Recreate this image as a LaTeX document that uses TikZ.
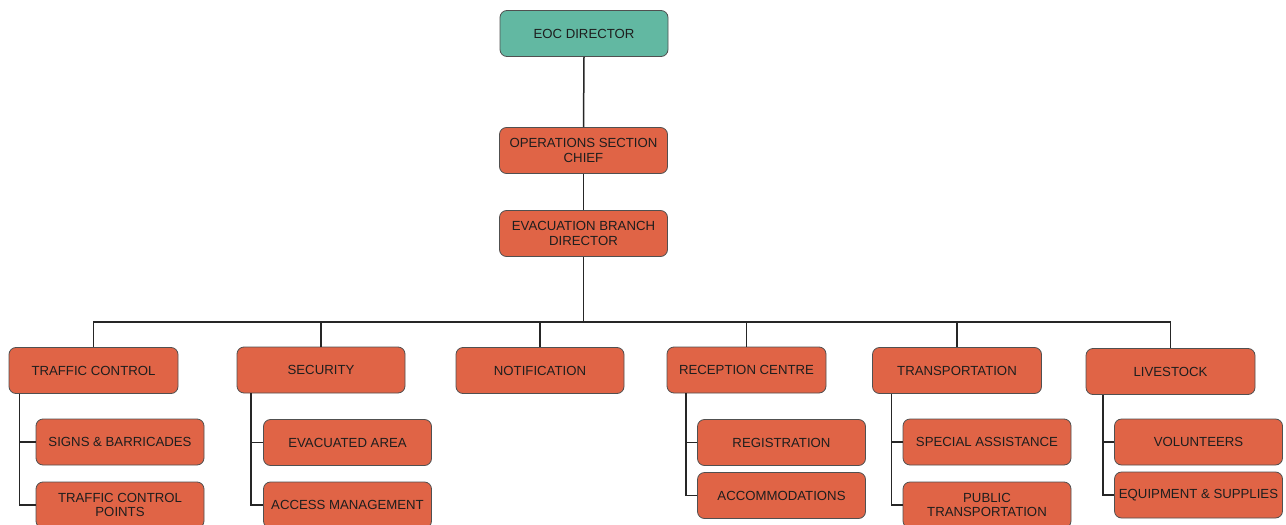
\documentclass[tikz,border=0pt]{standalone}
\usepackage{fontspec}
\setmainfont{Liberation Sans}
\usetikzlibrary{calc}
\definecolor{boxorange}{RGB}{224,100,70}
\definecolor{boxteal}{RGB}{98,184,162}
\definecolor{boxedge}{RGB}{80,80,80}
\definecolor{txt}{RGB}{30,30,30}
\begin{document}
\begin{tikzpicture}[x=1pt,y=-1pt,
  box/.style={draw=boxedge, line width=0.8pt, fill=boxorange, rounded corners=7pt,
    minimum width=168pt, minimum height=46pt, inner sep=1pt, align=center,
    text=txt, font=\fontsize{13.2}{14.5}\selectfont},
  topbox/.style={box, fill=boxteal},
  link/.style={draw=black!85, line width=1.5pt}]
\useasboundingbox (0,0) rectangle (1286,525);
\clip (0,0) rectangle (1286,525);
\fill[white] (0,0) rectangle (1286,525);
% top chain
\node[topbox] (eoc) at (584,33.5) {EOC DIRECTOR};
\node[box] (ops) at (583.5,150.5) {OPERATIONS SECTION\\CHIEF};
\node[box] (evac) at (583.5,233.5) {EVACUATION BRANCH\\DIRECTOR};
% level 2
\node[box, minimum width=169pt] (tc) at (93.5,370.5) {TRAFFIC CONTROL};
\node[box] (sec) at (321,370) {SECURITY};
\node[box] (notif) at (540,370.5) {NOTIFICATION};
\node[box, minimum width=159pt] (rec) at (746.5,370) {RECEPTION CENTRE};
\node[box, minimum width=169pt] (trans) at (957,370.5) {TRANSPORTATION};
\node[box, minimum width=169pt] (live) at (1170.5,371.5) {LIVESTOCK};
% level 3
\node[box] (sb) at (120,442) {SIGNS \& BARRICADES};
\node[box] (tcp) at (120,505) {TRAFFIC CONTROL\\POINTS};
\node[box] (ea) at (347.5,442.5) {EVACUATED AREA};
\node[box] (am) at (347.5,505) {ACCESS MANAGEMENT};
\node[box] (reg) at (781.5,442.5) {REGISTRATION};
\node[box] (acc) at (781.5,495.5) {ACCOMMODATIONS};
\node[box] (sa) at (987,442) {SPECIAL ASSISTANCE};
\node[box] (pt) at (987,505) {PUBLIC\\TRANSPORTATION};
\node[box] (vol) at (1198.5,442) {VOLUNTEERS};
\node[box] (eq) at (1198.5,495) {EQUIPMENT \& SUPPLIES};
% connectors top
\draw[link] (eoc.south) -- (ops.north);
\draw[link] (ops.south) -- (evac.north);
\coordinate (bj) at ($(evac.south)+(0,65)$);
\draw[link] (evac.south) -- (bj);
\draw[link] (tc.north) |- (bj);
\draw[link] (bj) -| (live.north);
\foreach \n in {sec,notif,rec,trans}
  \draw[link] (\n.north) -- (\n.north |- bj);
% sub connectors
\coordinate (ttc) at ($(tc.south -| sb.west)+(-16,0)$);
\draw[link] (ttc) |- (sb.west);
\draw[link] (ttc) |- (tcp.west);
\coordinate (tsec) at ($(sec.south -| ea.west)+(-12,0)$);
\draw[link] (tsec) |- (ea.west);
\draw[link] (tsec) |- (am.west);
\coordinate (trec) at ($(rec.south -| reg.west)+(-11,0)$);
\draw[link] (trec) |- (reg.west);
\draw[link] (trec) |- (acc.west);
\coordinate (ttr) at ($(trans.south -| sa.west)+(-11,0)$);
\draw[link] (ttr) |- (sa.west);
\draw[link] (ttr) |- (pt.west);
\coordinate (tlv) at ($(live.south -| vol.west)+(-11,0)$);
\draw[link] (tlv) |- (vol.west);
\draw[link] (tlv) |- (eq.west);
\end{tikzpicture}
\end{document}
